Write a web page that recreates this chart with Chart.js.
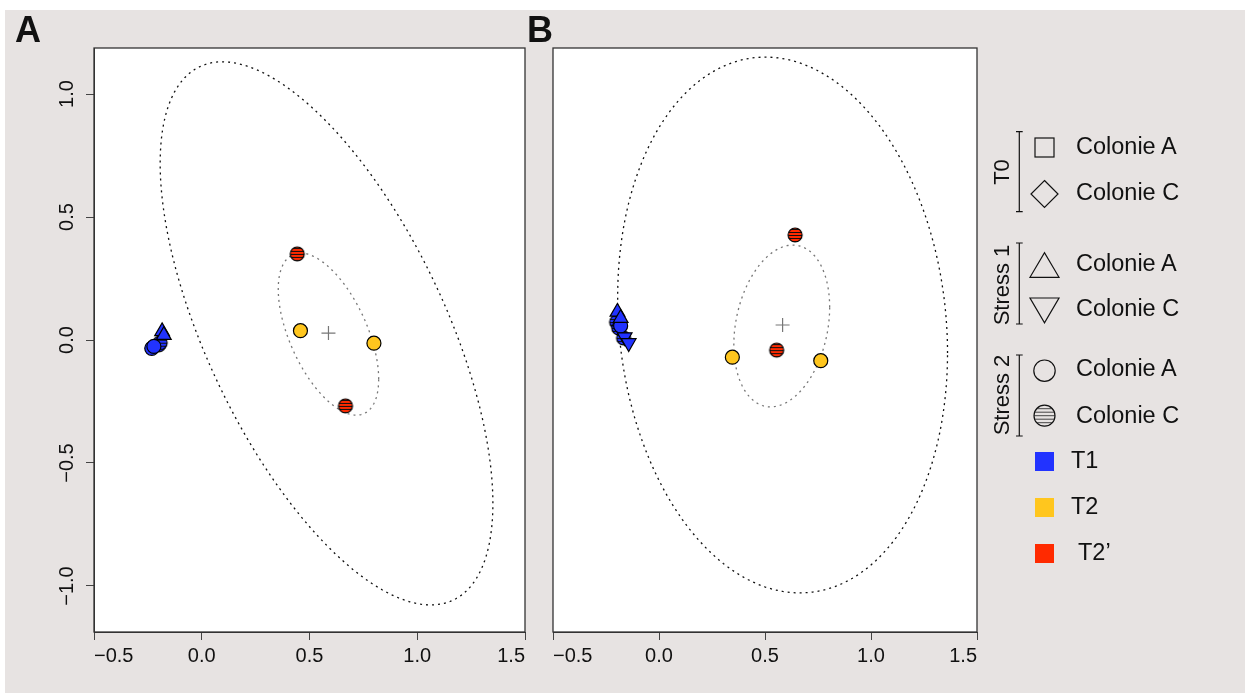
<!DOCTYPE html>
<html>
<head>
<meta charset="utf-8">
<script src="https://cdn.jsdelivr.net/npm/chart.js@4.4.1/dist/chart.umd.min.js"></script>
<style>
html, body { margin: 0; padding: 0; background: #fff; }
#wrap { position: relative; width: 1245px; height: 693px; overflow: hidden; font-family: "Liberation Sans", Arial, sans-serif; color: #111; }
#bg { position: absolute; left: 5px; top: 10px; width: 1240px; height: 683px; background: #e7e3e2; }
canvas { position: absolute; top: 0; }
#chartA { left: 0; }
#chartB { left: 530px; }
.panel { position: absolute; font-weight: bold; font-size: 36px; line-height: 36px; }
.leg { position: absolute; font-size: 23.5px; line-height: 23px; white-space: nowrap; }
.grp { position: absolute; font-size: 22px; line-height: 22px; white-space: nowrap; transform: translate(-50%, -50%) rotate(-90deg); }
#legsym { position: absolute; left: 0; top: 0; }
</style>
</head>
<body>
<div id="wrap">
  <div id="bg"></div>
  <canvas id="chartA" width="540" height="693"></canvas>
  <canvas id="chartB" width="470" height="693"></canvas>
  <div class="panel" style="left:15px;top:12px;">A</div>
  <div class="panel" style="left:527px;top:12px;">B</div>

  <svg id="legsym" width="1245" height="693">
    <g stroke="#111" stroke-width="1.2" fill="none">
      <path d="M1016 131.7H1022.7M1019.3 131.7V211.7M1016 211.7H1022.7"/>
      <path d="M1016 243H1022.7M1019.3 243V324M1016 324H1022.7"/>
      <path d="M1016 355H1022.7M1019.3 355V436M1016 436H1022.7"/>
      <rect x="1035" y="138" width="19" height="19"/>
      <polygon points="1044.5,180.5 1058,194 1044.5,207.5 1031,194"/>
      <polygon points="1030,277.3 1059,277.3 1044.5,252.7"/>
      <polygon points="1030,298 1059,298 1044.5,322.7"/>
      <circle cx="1044.5" cy="370.7" r="10.7"/>
    </g>
    <clipPath id="cc"><circle cx="1044.5" cy="415.7" r="10.5"/></clipPath>
    <g clip-path="url(#cc)" stroke="#444" stroke-width="1">
      <path d="M1033 408.7H1056M1033 412.2H1056M1033 415.7H1056M1033 419.2H1056M1033 422.7H1056"/>
    </g>
    <circle cx="1044.5" cy="415.7" r="10.5" stroke="#111" stroke-width="1.2" fill="none"/>
    <rect x="1035" y="452" width="19" height="19" fill="#2233ff"/>
    <rect x="1035" y="498" width="19" height="19" fill="#ffc61e"/>
    <rect x="1035" y="544" width="19" height="19" fill="#ff2a00"/>
  </svg>

  <div class="grp" style="left:1002px;top:172px;">T0</div>
  <div class="grp" style="left:1002px;top:285px;">Stress 1</div>
  <div class="grp" style="left:1002px;top:395px;">Stress 2</div>

  <div class="leg" style="left:1076px;top:135px;">Colonie A</div>
  <div class="leg" style="left:1076px;top:181px;">Colonie C</div>
  <div class="leg" style="left:1076px;top:252px;">Colonie A</div>
  <div class="leg" style="left:1076px;top:297px;">Colonie C</div>
  <div class="leg" style="left:1076px;top:357px;">Colonie A</div>
  <div class="leg" style="left:1076px;top:404px;">Colonie C</div>
  <div class="leg" style="left:1071px;top:449px;">T1</div>
  <div class="leg" style="left:1071px;top:495px;">T2</div>
  <div class="leg" style="left:1078px;top:541px;">T2’</div>
</div>

<script>
// tick positions
const ticksX = [-0.5, 0, 0.5, 1, 1.5];
const ticksY = [-1, -0.5, 0, 0.5, 1];

// panel A
const aT1TriUp = [{x: -0.184, y: 0.035}, {x: -0.176, y: 0.02}];
const aT1Circle = [{x: -0.232, y: -0.034}, {x: -0.222, y: -0.026}];
const aT1Striped = [{x: -0.2, y: -0.02}, {x: -0.193, y: -0.011}];
const aT2Circle = [{x: 0.458, y: 0.038}, {x: 0.799, y: -0.013}];
const aT2pStriped = [{x: 0.443, y: 0.35}, {x: 0.667, y: -0.268}];
const aCentre = [{x: 0.588, y: 0.028}];
// ellipse: centre x, centre y, then L = [[lxx, 0], [lyx, lyy]]
const aEllOuter = [0.579, 0.027, 0.772, -0.691, 0.861];
const aEllInner = [0.588, 0.024, 0.233, -0.183, 0.274];

// panel B
const bT1TriUp = [{x: -0.196, y: 0.114}, {x: -0.181, y: 0.089}];
const bT1TriDown = [{x: -0.162, y: 0.012}, {x: -0.143, y: -0.012}];
const bT1Circle = [{x: -0.181, y: 0.057}];
const bT1Striped = [{x: -0.2, y: 0.073}, {x: -0.19, y: 0.049}, {x: -0.167, y: 0.008}];
const bT2Circle = [{x: 0.346, y: -0.07}, {x: 0.763, y: -0.084}];
const bT2pStriped = [{x: 0.642, y: 0.427}, {x: 0.555, y: -0.041}];
const bCentre = [{x: 0.583, y: 0.061}];
const bEllOuter = [0.583, 0.061, 0.778, -0.114, 1.083];
const bEllInner = [0.579, 0.057, 0.226, 0.076, 0.32];

const BLUE = '#2233ff', YELLOW = '#ffc61e', RED = '#ff2a00';
const FONT = '"Liberation Sans", Arial, sans-serif';

function striped(color, r) {
    const c = document.createElement('canvas');
    const s = Math.ceil(2 * r + 4);
    c.width = s; c.height = s;
    const g = c.getContext('2d');
    const m = s / 2;
    g.beginPath();
    g.arc(m, m, r, 0, Math.PI * 2);
    g.fillStyle = color;
    g.fill();
    g.save();
    g.clip();
    g.strokeStyle = '#111';
    g.lineWidth = 1;
    for (let y = m - 3 * 3.2; y <= m + 3 * 3.2 + 0.1; y += 3.2) {
        g.beginPath();
        g.moveTo(0, Math.round(y) + 0.5);
        g.lineTo(s, Math.round(y) + 0.5);
        g.stroke();
    }
    g.restore();
    g.beginPath();
    g.arc(m, m, r, 0, Math.PI * 2);
    g.strokeStyle = '#000';
    g.lineWidth = 1.2;
    g.stroke();
    return c;
}

function fmt(v) {
    return (v < 0 ? '\u2212' : '') + Math.abs(v).toFixed(1);
}

const frame = {
    id: 'frame',
    beforeDraw(chart) {
        const a = chart.chartArea, ctx = chart.ctx;
        ctx.save();
        ctx.fillStyle = '#fff';
        ctx.fillRect(a.left, a.top, a.right - a.left, a.bottom - a.top);
        ctx.restore();
    },
    beforeDatasetsDraw(chart, args, opts) {
        const a = chart.chartArea, ctx = chart.ctx;
        const sx = chart.scales.x, sy = chart.scales.y;
        ctx.save();
        ctx.beginPath();
        ctx.rect(a.left, a.top, a.right - a.left, a.bottom - a.top);
        ctx.clip();
        (opts.ellipses || []).forEach(e => {
            const [cx, cy, lxx, lyx, lyy] = e.p;
            ctx.beginPath();
            for (let i = 0; i <= 240; i++) {
                const t = i / 240 * Math.PI * 2;
                const px = sx.getPixelForValue(cx + lxx * Math.cos(t));
                const py = sy.getPixelForValue(cy + lyx * Math.cos(t) + lyy * Math.sin(t));
                if (i === 0) ctx.moveTo(px, py); else ctx.lineTo(px, py);
            }
            ctx.strokeStyle = e.color;
            ctx.lineWidth = 1.3;
            ctx.setLineDash([2, 4]);
            ctx.stroke();
        });
        ctx.restore();
    },
    afterDraw(chart, args, opts) {
        const a = chart.chartArea, ctx = chart.ctx;
        ctx.save();
        ctx.strokeStyle = '#333';
        ctx.lineWidth = 1.3;
        ctx.strokeRect(a.left, a.top, a.right - a.left, a.bottom - a.top);
        if (opts.yLabels) {
            const sy = chart.scales.y;
            ctx.fillStyle = '#111';
            ctx.font = '20px ' + FONT;
            ctx.textAlign = 'center';
            ctx.textBaseline = 'middle';
            ticksY.forEach(v => {
                ctx.save();
                ctx.translate(67, sy.getPixelForValue(v));
                ctx.rotate(-Math.PI / 2);
                ctx.fillText(fmt(v), 0, 0);
                ctx.restore();
            });
        }
        ctx.restore();
    }
};

function ds(data, style, color, extra) {
    return Object.assign({
        data: data,
        pointStyle: style,
        pointRadius: 7,
        backgroundColor: color,
        borderColor: '#000',
        borderWidth: 1.2,
        showLine: false
    }, extra || {});
}

function makeChart(id, datasets, ellipses, showY, pad) {
    return new Chart(document.getElementById(id), {
        type: 'scatter',
        data: { datasets: datasets },
        options: {
            responsive: false,
            animation: false,
            events: [],
            layout: { padding: pad },
            plugins: {
                legend: { display: false },
                tooltip: { enabled: false },
                frame: { ellipses: ellipses, yLabels: showY }
            },
            scales: {
                x: {
                    type: 'linear',
                    min: -0.5,
                    max: 1.5,
                    afterBuildTicks: s => { s.ticks = ticksX.map(v => ({ value: v })); },
                    afterFit: s => { s.height = 50; },
                    grid: { drawOnChartArea: false, drawTicks: true, tickLength: 8, color: '#444' },
                    border: { display: true, color: '#333' },
                    ticks: {
                        color: '#111',
                        padding: 4,
                        maxRotation: 0,
                        align: 'inner',
                        font: { family: FONT, size: 20 },
                        callback: v => fmt(v)
                    }
                },
                y: {
                    type: 'linear',
                    display: showY,
                    min: -1.187,
                    max: 1.187,
                    afterBuildTicks: s => { s.ticks = ticksY.map(v => ({ value: v })); },
                    afterFit: s => { s.width = showY ? 94 : 0; },
                    grid: { drawOnChartArea: false, drawTicks: true, tickLength: 8, color: '#444' },
                    border: { display: true, color: '#333' },
                    ticks: { display: false }
                }
            }
        },
        plugins: [frame]
    });
}

const stripeBlue = striped(BLUE, 7);
const stripeRed = striped(RED, 7);

makeChart('chartA', [
    ds(aT1TriUp, 'triangle', BLUE, { pointRadius: 8.5 }),
    ds(aT1Circle, 'circle', BLUE),
    ds(aT1Striped, stripeBlue, BLUE),
    ds(aT2Circle, 'circle', YELLOW),
    ds(aT2pStriped, stripeRed, RED),
    ds(aCentre, 'cross', 'rgba(0,0,0,0)', { borderColor: '#777', pointRadius: 7 })
], [
    { p: aEllOuter, color: '#111' },
    { p: aEllInner, color: '#777' }
], true, { top: 48, right: 15, bottom: 11, left: 0 });

makeChart('chartB', [
    ds(bT1TriUp, 'triangle', BLUE, { pointRadius: 8.5 }),
    ds(bT1TriDown, 'triangle', BLUE, { pointRadius: 8.5, rotation: 180 }),
    ds(bT1Circle, 'circle', BLUE),
    ds(bT1Striped, stripeBlue, BLUE),
    ds(bT2Circle, 'circle', YELLOW),
    ds(bT2pStriped, stripeRed, RED),
    ds(bCentre, 'cross', 'rgba(0,0,0,0)', { borderColor: '#777', pointRadius: 7 })
], [
    { p: bEllOuter, color: '#111' },
    { p: bEllInner, color: '#777' }
], false, { top: 48, right: 23, bottom: 11, left: 23 });
</script>
</body>
</html>
